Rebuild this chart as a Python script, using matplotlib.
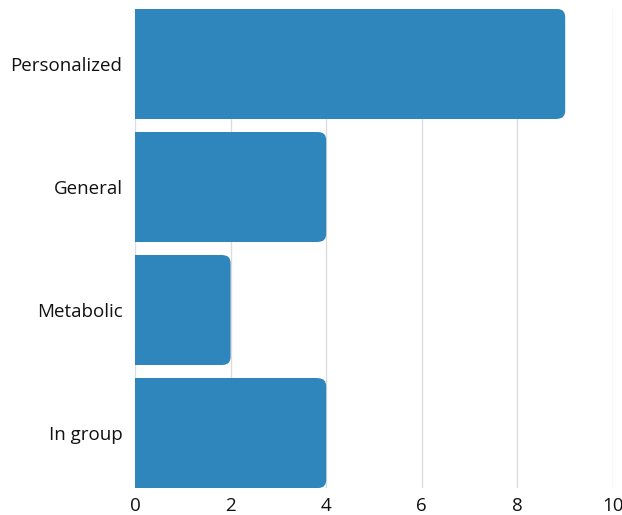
import matplotlib

matplotlib.use("Agg")
import matplotlib.pyplot as plt
from matplotlib.patches import FancyBboxPatch, Rectangle

categories = ["Personalized", "General", "Metabolic", "In group"]
values = [9, 4, 2, 4]
xticks = [0, 2, 4, 6, 8, 10]

BAR_COLOR = "#2E86BC"
GRID_COLOR = "#dcdcdc"

plt.rcParams["font.family"] = ["Open Sans", "DejaVu Sans"]

W, H = 622, 515
fig = plt.figure(figsize=(W / 100, H / 100), dpi=100)
left, right, top, bottom = 135, 613, 9, 488
ax = fig.add_axes([left / W, (H - bottom) / H, (right - left) / W, (bottom - top) / H])

h = 0.892
ax.set_xlim(0, 10)
ax.set_ylim(len(categories) - 1 + h / 2, -h / 2)
ylo, yhi = ax.get_ylim()

# corner radius in pixels -> data units
r_px = 8
xpp = 10 / (right - left)
ypp = abs(yhi - ylo) / (bottom - top)
rx = r_px * xpp
ry = r_px * ypp

for i, v in enumerate(values):
    y0 = i - h / 2
    ax.add_patch(Rectangle((0, y0), v - rx, h, facecolor=BAR_COLOR, edgecolor="none", zorder=2))
    ax.add_patch(
        FancyBboxPatch(
            (0, y0), v, h,
            boxstyle=f"round,pad=0,rounding_size={rx}",
            mutation_aspect=ry / rx,
            facecolor=BAR_COLOR, edgecolor="none", zorder=2,
        )
    )

ax.set_yticks(range(len(categories)))
ax.set_yticklabels(categories)
ax.set_xticks(xticks)
ax.set_xticklabels([str(t) for t in xticks])
ax.tick_params(axis="both", length=0, labelsize=13.5, colors="#111111")
ax.tick_params(axis="y", pad=9)
ax.tick_params(axis="x", pad=6.5)
ax.grid(axis="x", color=GRID_COLOR, linewidth=1, zorder=0)
ax.set_axisbelow(True)
for s in ax.spines.values():
    s.set_visible(False)

fig.savefig("out.png", dpi=100)
